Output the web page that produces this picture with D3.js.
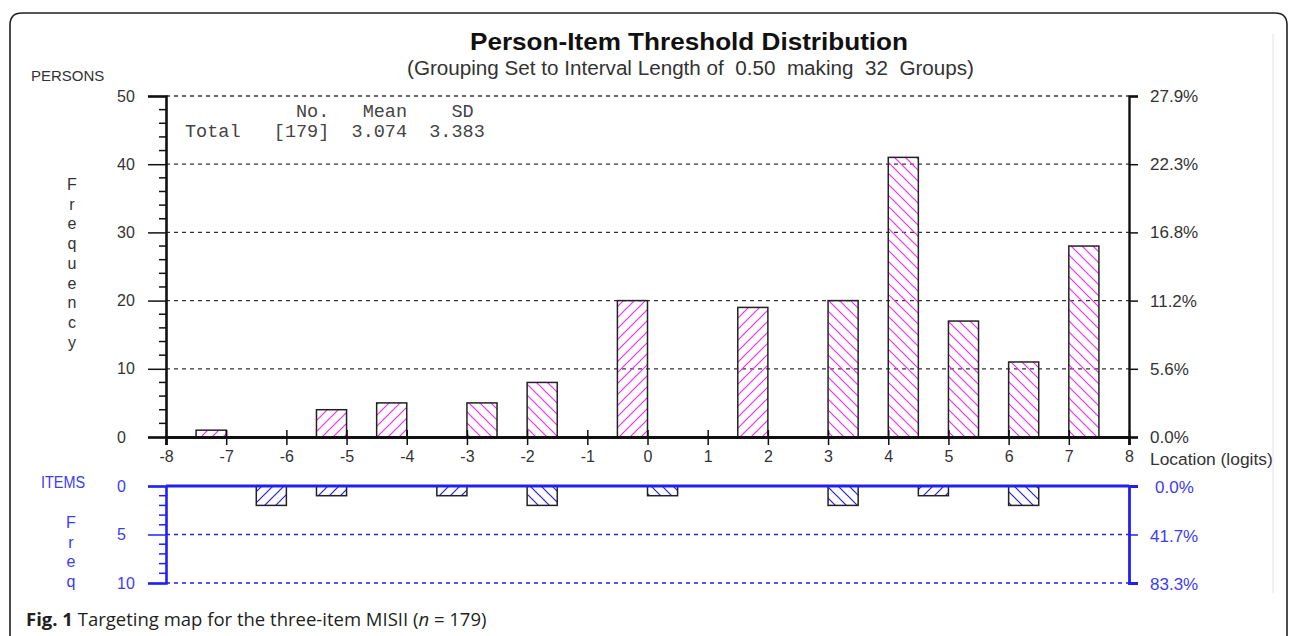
<!DOCTYPE html>
<html><head><meta charset="utf-8">
<script src="https://cdn.jsdelivr.net/npm/d3@7"></script>
<style>
html,body{margin:0;padding:0;background:#fff;}
svg{display:block;}
</style></head>
<body>
<svg id="chart" width="1292" height="636"></svg>
<script>
// ---------- data ----------
const binWidth = 0.5;
const personBinStart = [-7.5, -5.5, -4.5, -3, -2, -0.5, 1.5, 3, 4, 5, 6, 7];
const personFreq     = [1, 4, 5, 5, 8, 20, 19, 20, 41, 17, 11, 28];
const itemBinStart   = [-6.5, -5.5, -3.5, -2, 0, 3, 4.5, 6];
const itemFreq       = [2, 1, 1, 2, 1, 2, 1, 2];
const xTicks = [-8,-7,-6,-5,-4,-3,-2,-1,0,1,2,3,4,5,6,7,8];
const personTicks = [0, 10, 20, 30, 40, 50];
const personPctLabels = ["0.0%", "5.6%", "11.2%", "16.8%", "22.3%", "27.9%"];
const itemTicks = [0, 5, 10];
const itemPctLabels = ["0.0%", "41.7%", "83.3%"];
const statsHeader = "          No.   Mean    SD";
const statsRow    = "Total   [179]  3.074  3.383";

// ---------- setup ----------
const svg = d3.select("#chart");
const x  = d3.scaleLinear().domain([-8, 8]).range([166, 1129]);
const yP = d3.scaleLinear().domain([0, 50]).range([437, 96]);
const yI = d3.scaleLinear().domain([0, 10]).range([486, 583]);
const BLUE = "#2020f2", BLUE_T = "#3c3cf2", MAG = "#f030f0";
const SANS = "Liberation Sans, Arial, sans-serif";

const defs = svg.append("defs");
function hatch(id, color, dir) {
  const p = defs.append("pattern").attr("id", id)
    .attr("patternUnits", "userSpaceOnUse").attr("width", 11).attr("height", 11);
  const d = dir === "/" ? "M-1,12 L12,-1 M-6,6 L6,-6 M5,17 L17,5"
                        : "M-1,-1 L12,12 M-6,5 L6,17 M5,-6 L17,6";
  p.append("path").attr("d", d).attr("stroke", color).attr("stroke-width", 1.2).attr("fill", "none");
}
hatch("pf", MAG, "/"); hatch("pb", MAG, "\\");
hatch("if", BLUE, "/"); hatch("ib", BLUE, "\\");
const dirOf = s => (Math.round((s + 8) / binWidth) % 2 === 1) ? "f" : "b";

// frame
svg.append("path")
  .attr("d", "M10,660 L10,25 Q10,13 22,13 L1275,13 Q1287,13 1287,25 L1287,660")
  .attr("fill", "none").attr("stroke", "#222").attr("stroke-width", 1.6);
svg.append("line").attr("x1", 1273).attr("x2", 1273).attr("y1", 34).attr("y2", 593)
  .attr("stroke", "#e4e4e4").attr("stroke-width", 1);

// titles
svg.append("text").attr("x", 470).attr("y", 50)
  .attr("font-family", SANS).attr("font-weight", "bold")
  .attr("font-size", 23).attr("textLength", 438).attr("lengthAdjust", "spacingAndGlyphs")
  .attr("fill", "#111").text("Person-Item Threshold Distribution");
svg.append("text").attr("x", 407).attr("y", 75)
  .attr("font-family", SANS).attr("font-size", 19.5)
  .attr("textLength", 567).attr("lengthAdjust", "spacingAndGlyphs")
  .attr("fill", "#333").attr("xml:space", "preserve")
  .text("(Grouping Set to Interval Length of  0.50  making  32  Groups)");
svg.append("text").attr("x", 31).attr("y", 81)
  .attr("font-family", SANS).attr("font-size", 15).attr("fill", "#333").text("PERSONS");

// ---------- person panel ----------
const gP = svg.append("g");
gP.selectAll("line.grid").data(personTicks.filter(d => d > 0)).join("line")
  .attr("x1", x(-8)).attr("x2", x(8)).attr("y1", d => yP(d)).attr("y2", d => yP(d))
  .attr("stroke", "#333").attr("stroke-width", 1.3).attr("stroke-dasharray", "4,4");
gP.selectAll("rect.bar").data(personBinStart.map((s, i) => ({s, v: personFreq[i]}))).join("rect")
  .attr("x", d => x(d.s)).attr("width", d => x(d.s + binWidth) - x(d.s))
  .attr("y", d => yP(d.v)).attr("height", d => yP(0) - yP(d.v))
  .attr("fill", d => `url(#p${dirOf(d.s)})`).attr("stroke", "#222").attr("stroke-width", 1.5);
// left axis
const leftAxis = d3.axisLeft(yP).tickValues(personTicks).tickSize(18).tickFormat(d => String(d));
const gl = gP.append("g").attr("transform", `translate(${x(-8)},0)`).call(leftAxis);
gl.select(".domain").attr("stroke-width", 2.6).attr("stroke", "#111");
gl.selectAll(".tick line").attr("stroke-width", 1.5).attr("stroke", "#111");
gl.selectAll(".tick text").attr("font-family", SANS).attr("font-size", 16)
  .attr("fill", "#333").attr("text-anchor", "start").attr("x", 117 - x(-8));
const minorP = d3.range(0, 51, 2).filter(d => d % 10 !== 0);
gP.selectAll("line.minor").data(minorP).join("line")
  .attr("x1", x(-8) - 7).attr("x2", x(-8)).attr("y1", d => yP(d)).attr("y2", d => yP(d))
  .attr("stroke", "#111").attr("stroke-width", 1.5);
// right axis
const rightAxis = d3.axisRight(yP).tickValues(personTicks).tickSize(9)
  .tickFormat((d, i) => personPctLabels[i]);
const gr = gP.append("g").attr("transform", `translate(${x(8)},0)`).call(rightAxis);
gr.select(".domain").attr("stroke-width", 2.4).attr("stroke", "#111");
gr.selectAll(".tick line").attr("stroke-width", 1.5).attr("stroke", "#111");
gr.selectAll(".tick text").attr("font-family", SANS).attr("font-size", 17)
  .attr("fill", "#333").attr("x", 21);
// bottom axis
const bottomAxis = d3.axisBottom(x).tickValues(xTicks).tickSize(8).tickFormat(d => String(d));
const gb = gP.append("g").attr("transform", `translate(0,${yP(0)})`).call(bottomAxis);
gb.select(".domain").attr("stroke-width", 2.8).attr("stroke", "#111");
gb.selectAll(".tick line").attr("stroke-width", 1.5).attr("stroke", "#111").attr("y1", -7);
gb.selectAll(".tick text").attr("font-family", SANS).attr("font-size", 16)
  .attr("fill", "#333").attr("y", 14);
gP.append("text").attr("x", 1150).attr("y", 465)
  .attr("font-family", SANS).attr("font-size", 17.4)
  .attr("fill", "#333").text("Location (logits)");
gP.selectAll("text.fl").data("Frequency".split("")).join("text")
  .attr("x", 72).attr("y", (d, i) => 190 + i * 19.7).attr("text-anchor", "middle")
  .attr("font-family", SANS).attr("font-size", 16)
  .attr("fill", "#333").text(d => d);
// stats
[statsHeader, statsRow].forEach((s, i) => {
  gP.append("text").attr("x", 185).attr("y", 117 + i * 20).attr("xml:space", "preserve")
    .attr("font-family", "Liberation Mono, Courier New, monospace").attr("font-size", 18.5)
    .attr("fill", "#444").text(s);
});

// ---------- item panel ----------
const gI = svg.append("g");
gI.selectAll("line.grid").data(itemTicks.filter(d => d > 0)).join("line")
  .attr("x1", x(-8)).attr("x2", x(8)).attr("y1", d => yI(d)).attr("y2", d => yI(d))
  .attr("stroke", BLUE).attr("stroke-width", 1.5).attr("stroke-dasharray", "4,4");
gI.selectAll("rect.bar").data(itemBinStart.map((s, i) => ({s, v: itemFreq[i]}))).join("rect")
  .attr("x", d => x(d.s)).attr("width", d => x(d.s + binWidth) - x(d.s))
  .attr("y", yI(0)).attr("height", d => yI(d.v) - yI(0))
  .attr("fill", d => `url(#i${dirOf(d.s)})`).attr("stroke", "#222").attr("stroke-width", 1.5);
const ilAxis = d3.axisLeft(yI).tickValues(itemTicks).tickSize(18).tickFormat(d => String(d));
const gil = gI.append("g").attr("transform", `translate(${x(-8)},0)`).call(ilAxis);
gil.select(".domain").attr("stroke-width", 2.6).attr("stroke", BLUE);
gil.selectAll(".tick line").attr("stroke-width", 1.5).attr("stroke", BLUE);
gil.selectAll(".tick text").attr("font-family", SANS).attr("font-size", 16)
  .attr("fill", BLUE_T).attr("text-anchor", "start").attr("x", 117 - x(-8));
const minorI = d3.range(0, 11).filter(d => d % 5 !== 0);
gI.selectAll("line.minor").data(minorI).join("line")
  .attr("x1", x(-8) - 7).attr("x2", x(-8)).attr("y1", d => yI(d)).attr("y2", d => yI(d))
  .attr("stroke", BLUE).attr("stroke-width", 1.5);
gI.append("line").attr("x1", x(-8)).attr("x2", x(8)).attr("y1", yI(0)).attr("y2", yI(0))
  .attr("stroke", BLUE).attr("stroke-width", 2.8);
const irAxis = d3.axisRight(yI).tickValues(itemTicks).tickSize(9)
  .tickFormat((d, i) => itemPctLabels[i]);
const gir = gI.append("g").attr("transform", `translate(${x(8)},0)`).call(irAxis);
gir.select(".domain").attr("stroke-width", 2.8).attr("stroke", BLUE);
gir.selectAll(".tick line").attr("stroke-width", 1.5).attr("stroke", BLUE);
gir.selectAll(".tick text").attr("font-family", SANS).attr("font-size", 17)
  .attr("fill", BLUE_T).attr("x", (d, i) => i === 0 ? 26 : 21).attr("dy", "0.4em");
gI.append("text").attr("x", 41).attr("y", 488)
  .attr("font-family", SANS).attr("font-size", 16)
  .attr("textLength", 44).attr("lengthAdjust", "spacingAndGlyphs")
  .attr("fill", BLUE_T).text("ITEMS");
gI.selectAll("text.fl").data("Freq".split("")).join("text")
  .attr("x", 71).attr("y", (d, i) => 528 + i * 19.5).attr("text-anchor", "middle")
  .attr("font-family", SANS).attr("font-size", 16)
  .attr("fill", BLUE_T).text(d => d);

// caption
const cap = svg.append("text").attr("x", 26).attr("y", 626)
  .attr("font-family", "Open Sans, Noto Sans, sans-serif").attr("font-size", 18.5).attr("fill", "#231f20");
cap.append("tspan").attr("font-weight", "bold").text("Fig. 1");
cap.append("tspan").text(" Targeting map for the three-item MISII (");
cap.append("tspan").attr("font-style", "italic").text("n");
cap.append("tspan").text(" = 179)");
</script>
</body></html>
